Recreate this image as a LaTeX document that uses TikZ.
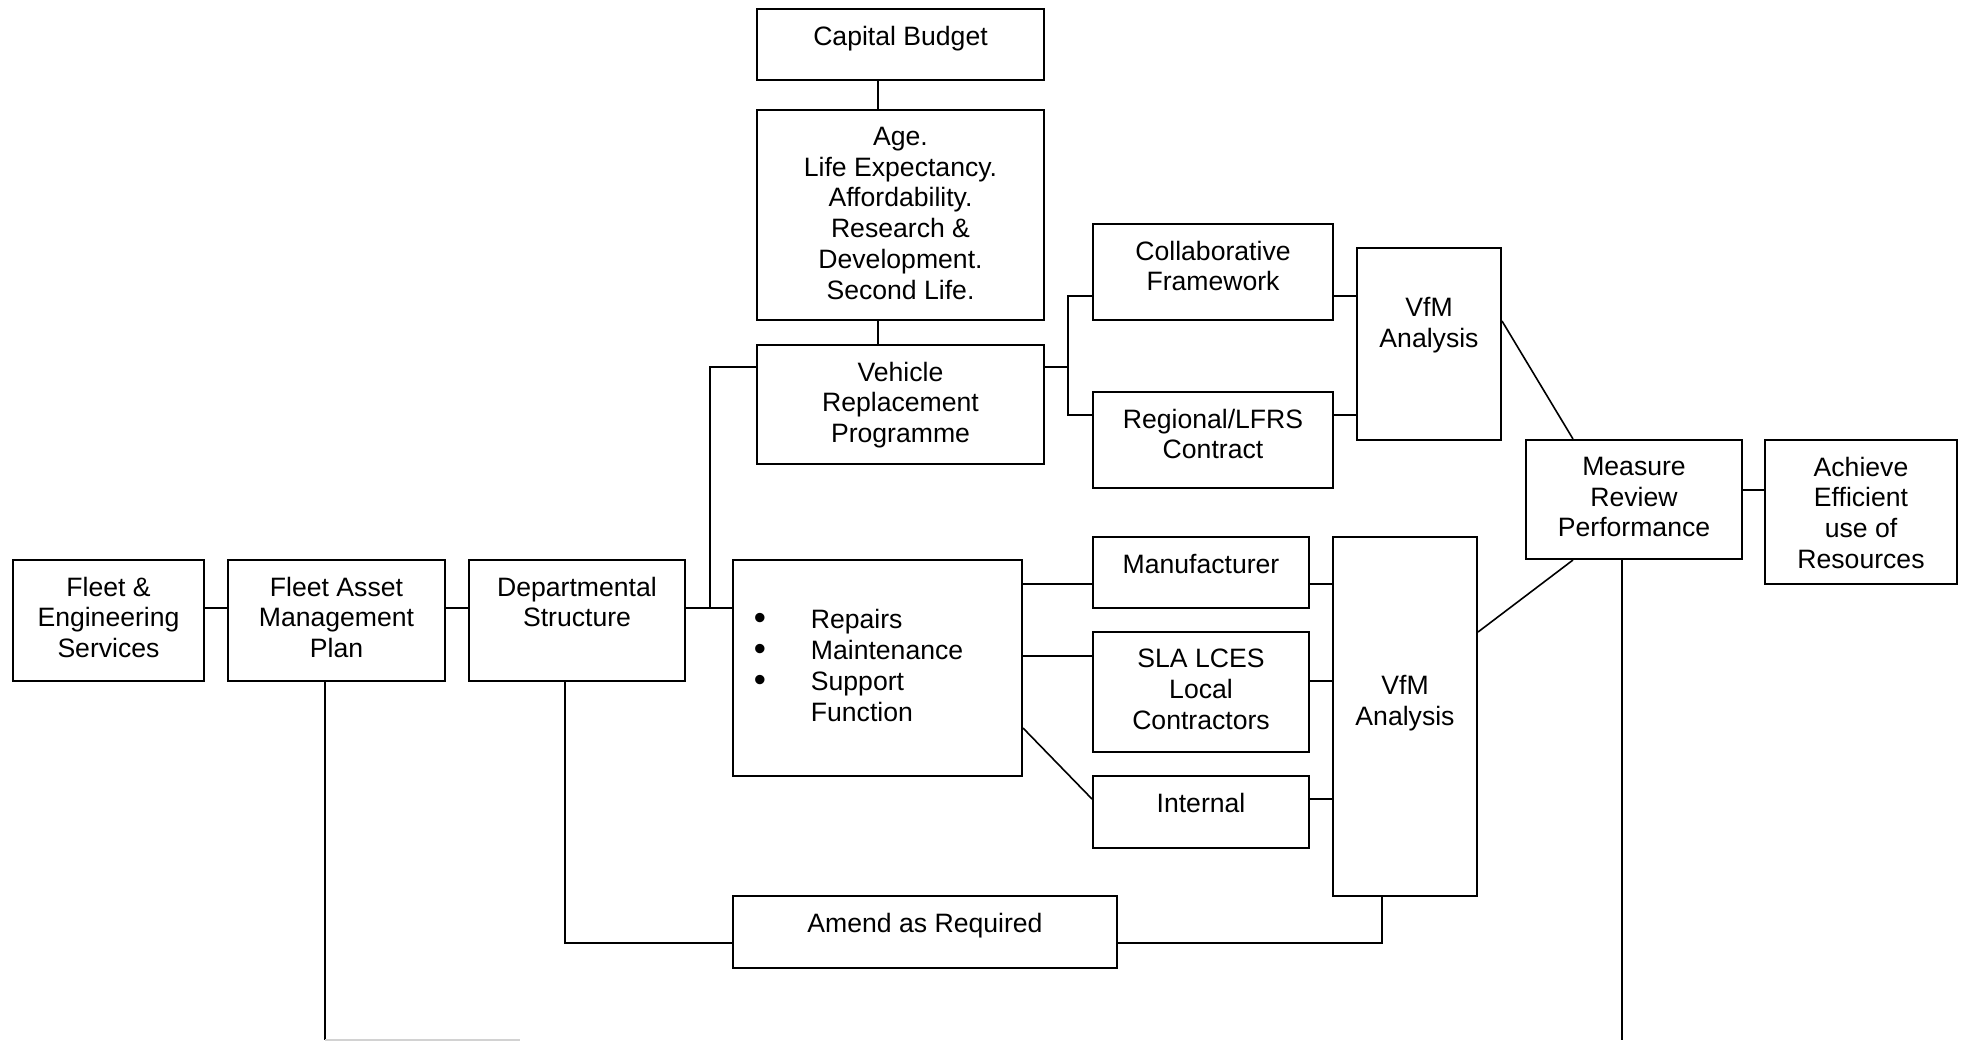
\documentclass[tikz,border=0pt]{standalone}
\usepackage{fontspec}
\setmainfont{Liberation Sans}
\usetikzlibrary{positioning}

\newcommand{\bul}{\makebox[28.5pt][l]{\raisebox{-0.4pt}{\scalebox{1.3}{\textbullet}}}}

\begin{document}
\begin{tikzpicture}[x=0.5pt, y=-0.5pt]
\tikzset{blk/.style 2 args = {draw=black, line width=1pt, inner sep=0pt, minimum width=#1*0.5pt, minimum height=#2*0.5pt}}
\tikzset{txt/.style = {inner sep=0pt, align=center, font=\fontsize{13.3}{15.4}\selectfont}}
\tikzset{ln/.style = {draw=black, line width=0.8pt}}
\useasboundingbox (0,0) rectangle (1966,1040);

% boxes
\node[blk={287}{71}]  (cap)  at (900.5,44.5) {};
\node[blk={287}{210}] (age)  at (900.5,215) {};
\node[blk={287}{119}] (vrp)  at (900.5,404.5) {};
\node[blk={240}{96}]  (colf) at (1213,272) {};
\node[blk={240}{96}]  (reg)  at (1213,440) {};
\node[blk={144}{192}] (vfma) at (1429,344) {};
\node[blk={216}{119}] (mrp)  at (1634,499.5) {};
\node[blk={192}{144}] (ach)  at (1861,512) {};
\node[blk={191}{121}] (fes)  at (108.5,620.5) {};
\node[blk={217}{121}] (famp) at (336.5,620.5) {};
\node[blk={216}{121}] (dept) at (577,620.5) {};
\node[blk={289}{216}] (rep)  at (877.5,668) {};
\node[blk={216}{71}]  (man)  at (1201,572.5) {};
\node[blk={216}{120}] (sla)  at (1201,692) {};
\node[blk={216}{72}]  (intl) at (1201,812) {};
\node[blk={144}{359}] (vfmb) at (1405,716.5) {};
\node[blk={384}{72}]  (amd)  at (925,932) {};

% texts
\node[txt, below=8.75pt of cap.north]  (captxt)  {Capital Budget};
\node[txt, below=8.75pt of age.north]  (agetxt)  {Age.\\Life Expectancy.\\Affordability.\\Research \&\\Development.\\Second Life.};
\node[txt, below=8.75pt of vrp.north]  (vrptxt)  {Vehicle\\Replacement\\Programme};
\node[txt, below=8.75pt of colf.north] (colftxt) {Collaborative\\Framework};
\node[txt, below=8.75pt of reg.north]  (regtxt)  {Regional/LFRS\\Contract};
\node[txt, below=25pt of vfma.north]   (vfmatxt) {VfM\\Analysis};
\node[txt, below=8.75pt of mrp.north]  (mrptxt)  {Measure\\Review\\Performance};
\node[txt, below=8.75pt of ach.north]  (achtxt)  {Achieve\\Efficient\\use of\\Resources};
\node[txt, below=8.75pt of fes.north]  (festxt)  {Fleet \&\\Engineering\\Services};
\node[txt, below=8.75pt of famp.north] (famptxt) {Fleet Asset\\Management\\Plan};
\node[txt, below=8.75pt of dept.north] (depttxt) {Departmental\\Structure};
\node[txt, align=left, anchor=north west] (reptxt) at ([xshift=10.75pt, yshift=-25pt]rep.north west)
  {\bul Repairs\\\bul Maintenance\\\bul Support\\\makebox[28.5pt][l]{}Function};
\node[txt, below=8.75pt of man.north]  (mantxt)  {Manufacturer};
\node[txt, below=8.75pt of sla.north]  (slatxt)  {SLA LCES\\Local\\Contractors};
\node[txt, below=8.75pt of intl.north] (intltxt) {Internal};
\node[txt, below=69.5pt of vfmb.north] (vfmbtxt) {VfM\\Analysis};
\node[txt, below=8.75pt of amd.north]  (amdtxt)  {Amend as Required};

% connectors
\coordinate (j1) at (710,608);
\coordinate (j2) at (1068,367);
\coordinate (endA) at (325,1040);
\coordinate (endB) at (1622,1040);

\draw[ln] ([yshift=6.25pt]fes.east) -- ([yshift=6.25pt]famp.west);
\draw[ln] ([yshift=6.25pt]famp.east) -- ([yshift=6.25pt]dept.west);
\draw[ln] ([yshift=6.25pt]dept.east) -- (j1) -- (j1 -| rep.west);
\draw[ln] (j1) |- ([yshift=18.75pt]vrp.west);
\draw[ln] ([xshift=-11.25pt]cap.south) -- ([xshift=-11.25pt]age.north);
\draw[ln] ([xshift=-11.25pt]age.south) -- ([xshift=-11.25pt]vrp.north);
\draw[ln] ([yshift=18.75pt]vrp.east) -- (j2);
\draw[ln] ([yshift=-12pt]colf.west) -| (j2) |- ([yshift=12.5pt]reg.west);
\draw[ln] ([yshift=-12pt]colf.east) -- ([yshift=-12pt]colf.east -| vfma.west);
\draw[ln] ([yshift=12.5pt]reg.east) -- ([yshift=12.5pt]reg.east -| vfma.west);
\draw[ln] ([yshift=11.5pt]vfma.east) -- ([xshift=-30.5pt]mrp.north);
\draw[ln] ([yshift=4.75pt]mrp.east) -- ([yshift=4.75pt]mrp.east -| ach.west);
\draw[ln] ([yshift=42.25pt]vfmb.east) -- ([xshift=-30.5pt]mrp.south);
\draw[ln] ([xshift=-6pt]mrp.south) -- (endB);
\draw[ln] ([xshift=-5.75pt]famp.south) -- (endA);
\draw[gray!35, line width=0.8pt] (endA) -- (520,1040);
\draw[ln] ([xshift=-6pt]dept.south) |- ([yshift=-5.5pt]amd.west);
\draw[ln] ([yshift=-5.5pt]amd.east) -| ([xshift=-11.5pt]vfmb.south);
\draw[ln] ([yshift=42pt]rep.east) -- ([yshift=42pt]rep.east -| man.west);
\draw[ln] ([yshift=6pt]rep.east) -- ([yshift=6pt]rep.east -| sla.west);
\draw[ln] ([yshift=-30pt]rep.east) -- ([yshift=6.5pt]intl.west);
\draw[ln] ([yshift=-5.75pt]man.east) -- ([yshift=-5.75pt]man.east -| vfmb.west);
\draw[ln] ([yshift=5.5pt]sla.east) -- ([yshift=5.5pt]sla.east -| vfmb.west);
\draw[ln] ([yshift=6.5pt]intl.east) -- ([yshift=6.5pt]intl.east -| vfmb.west);

\end{tikzpicture}
\end{document}
